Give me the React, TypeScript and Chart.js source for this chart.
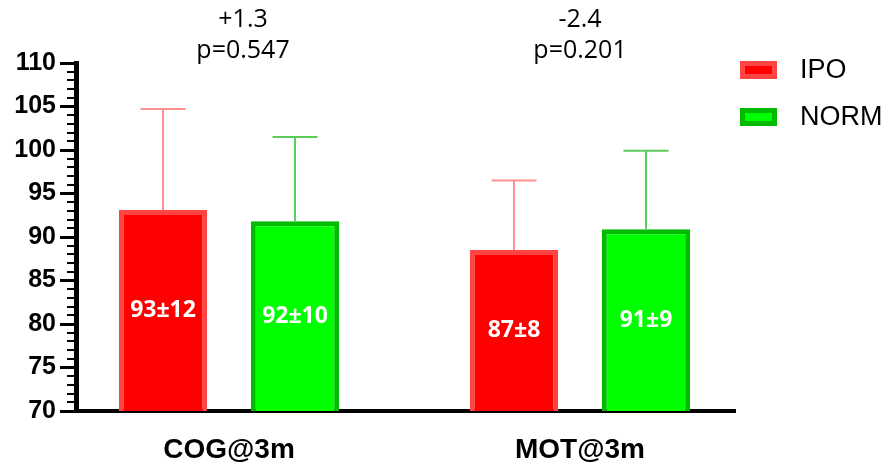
import React, { useEffect, useRef } from 'react';
import { Chart, registerables } from 'chart.js';

Chart.register(...registerables);

// ---- data ----
const categories = ['COG@3m', 'MOT@3m'];
const seriesNames = ['IPO', 'NORM'];
const ipoMeans = [93.1, 88.5];
const ipoSD = [11.6, 8.0];
const normMeans = [91.8, 90.9];
const normSD = [9.7, 9.0];
const ipoLabels = ['93±12', '87±8'];
const normLabels = ['92±10', '91±9'];
const diffLabels = ['+1.3', '-2.4'];
const pLabels = ['p=0.547', 'p=0.201'];
const yMin = 70;
const yMax = 110;
const yStep = 5;

const LABEL_FONT = '"Open Sans", "Noto Sans", sans-serif';
const ARIAL = '"Liberation Sans", Arial, sans-serif';

const errorBarPlugin = {
  id: 'errorBars',
  afterDatasetsDraw(chart: any) {
    const ctx = chart.ctx;
    const yScale = chart.scales.y;
    const bottom = chart.chartArea.bottom;
    chart.data.datasets.forEach((ds: any, d: number) => {
      const meta = chart.getDatasetMeta(d);
      meta.data.forEach((el: any, i: number) => {
        const v = ds.data[i].y;
        const barTop = yScale.getPixelForValue(v);
        const top = yScale.getPixelForValue(v + ds.sd[i]);
        const x = el.x;
        ctx.save();
        ctx.strokeStyle = ds.errColor;
        ctx.lineWidth = 2;
        ctx.beginPath();
        ctx.moveTo(x, barTop);
        ctx.lineTo(x, top);
        ctx.moveTo(x - 22.5, top);
        ctx.lineTo(x + 22.5, top);
        ctx.stroke();
        ctx.restore();
        // value label inside bar
        ctx.save();
        ctx.fillStyle = '#ffffff';
        ctx.font = 'bold 23px ' + LABEL_FONT;
        ctx.textAlign = 'center';
        ctx.textBaseline = 'middle';
        ctx.fillText(String(ds.valueLabels[i]), x, (barTop + bottom) / 2);
        ctx.restore();
      });
    });
  },
};

const decorPlugin = {
  id: 'decor',
  afterDraw(chart: any) {
    const ctx = chart.ctx;
    const yScale = chart.scales.y;
    const xScale = chart.scales.x;
    const left = chart.chartArea.left;
    ctx.save();
    // minor ticks
    ctx.strokeStyle = '#000';
    ctx.lineWidth = 2;
    for (let v = yMin; v <= yMax; v++) {
      if (v % yStep === 0) continue;
      const y = Math.round(yScale.getPixelForValue(v));
      ctx.beginPath();
      ctx.moveTo(left - 9, y);
      ctx.lineTo(left, y);
      ctx.stroke();
    }
    // annotations above groups
    ctx.fillStyle = '#000';
    ctx.font = '25px ' + LABEL_FONT;
    ctx.textAlign = 'center';
    ctx.textBaseline = 'middle';
    categories.forEach((_, i) => {
      const x = xScale.getPixelForValue(i + 1);
      ctx.fillText(diffLabels[i], x + (i === 0 ? 14 : 0), 20);
      ctx.fillText(pLabels[i], x + (i === 0 ? 14 : 0), 51);
    });
    // legend
    chart.data.datasets.forEach((ds: any, d: number) => {
      const cy = 70 + d * 47;
      const bx = 740;
      ctx.fillStyle = ds.borderColor;
      ctx.fillRect(bx, cy - 9, 37, 18);
      ctx.fillStyle = ds.backgroundColor;
      ctx.fillRect(bx + 5, cy - 4, 27, 8);
      ctx.fillStyle = '#000';
      ctx.font = '27px ' + ARIAL;
      ctx.textAlign = 'left';
      ctx.textBaseline = 'middle';
      ctx.fillText(ds.label, 800, cy + 1);
    });
    ctx.restore();
  },
};

export default function App() {
  const canvasRef = useRef<HTMLCanvasElement | null>(null);

  useEffect(() => {
    document.body.style.margin = '0';
    const canvas = canvasRef.current;
    if (!canvas) return;
    const chart = new Chart(canvas, {
      type: 'bar',
      data: {
        datasets: [
          {
            label: seriesNames[0],
            data: ipoMeans.map((y, i) => ({ x: i + 1, y })),
            backgroundColor: '#ff0000',
            borderColor: '#ff4444',
            borderWidth: 5,
            sd: ipoSD,
            valueLabels: ipoLabels,
            errColor: '#ff9090',
          } as any,
          {
            label: seriesNames[1],
            data: normMeans.map((y, i) => ({ x: i + 1, y })),
            backgroundColor: '#00ff00',
            borderColor: '#00bb00',
            borderWidth: 5,
            sd: normSD,
            valueLabels: normLabels,
            errColor: '#5ccc5c',
          } as any,
        ],
      },
      options: {
        animation: false,
        responsive: false,
        devicePixelRatio: 1,
        categoryPercentage: 0.752,
        barPercentage: 0.67,
        layout: { padding: { top: 63, right: 152, left: 0, bottom: 0 } },
        plugins: {
          legend: { display: false },
          tooltip: { enabled: false },
        },
        scales: {
          x: {
            type: 'linear',
            offset: false,
            min: 0.564,
            max: 2.4416,
            grid: { display: false, drawTicks: false },
            border: { display: true, color: '#000', width: 4 },
            afterBuildTicks: (scale: any) => {
              scale.ticks = categories.map((_, i) => ({ value: i + 1 }));
            },
            afterFit: (scale: any) => {
              scale.height = 59;
            },
            ticks: {
              autoSkip: false,
              maxRotation: 0,
              padding: 22,
              color: '#000',
              font: { family: ARIAL, size: 28, weight: 'bold' },
              callback: (v: any) => categories[Math.round(v) - 1] ?? '',
            },
          },
          y: {
            min: yMin,
            max: yMax,
            grid: {
              drawOnChartArea: false,
              drawTicks: true,
              tickLength: 16,
              tickWidth: 3,
              tickColor: '#000',
            },
            border: { display: true, color: '#000', width: 5 },
            afterFit: (scale: any) => {
              scale.width = 76;
            },
            ticks: {
              stepSize: yStep,
              padding: 4,
              color: '#000',
              font: { family: ARIAL, size: 25, weight: 'bold' },
            },
          },
        },
      } as any,
      plugins: [errorBarPlugin, decorPlugin],
    });
    return () => chart.destroy();
  }, []);

  return (
    <div style={{ width: 887, height: 470 }}>
      <canvas ref={canvasRef} width={887} height={470} style={{ display: 'block' }} />
    </div>
  );
}
